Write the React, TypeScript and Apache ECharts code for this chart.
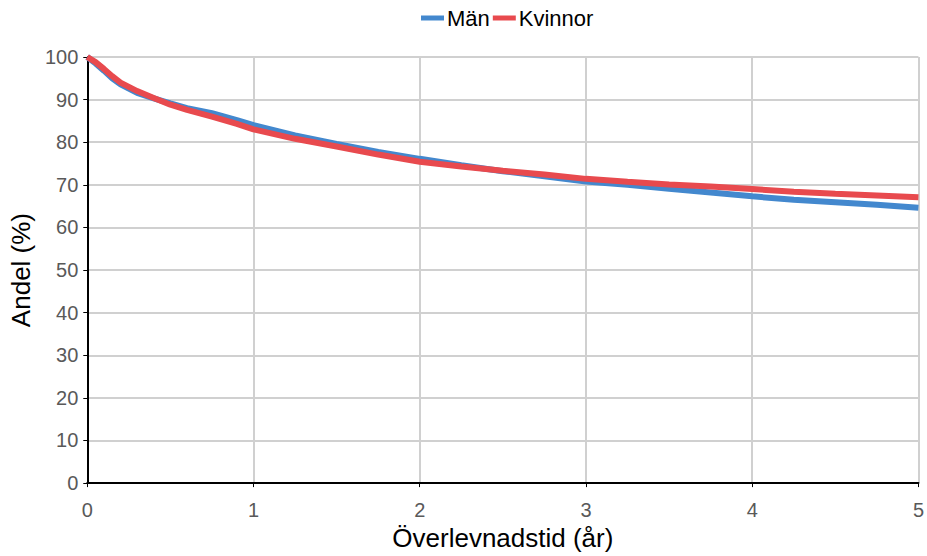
import React, { useEffect, useRef } from "react";
import * as echarts from "echarts";

const years = [0, 0.05, 0.1, 0.15, 0.2, 0.3, 0.4, 0.5, 0.6, 0.75, 0.9, 1.0, 1.25, 1.5, 1.75, 2.0, 2.25, 2.5, 2.75, 3.0, 3.25, 3.5, 3.75, 4.0, 4.25, 4.5, 4.75, 5.0];
const man = [100, 98.5, 96.8, 95.0, 93.6, 91.6, 90.3, 89.1, 88.0, 86.8, 85.2, 84.0, 81.6, 79.6, 77.7, 76.1, 74.6, 73.2, 72.0, 70.8, 70.0, 69.1, 68.2, 67.3, 66.5, 65.9, 65.3, 64.6];
const kvinnor = [100, 98.8, 97.2, 95.5, 94.0, 92.0, 90.4, 88.8, 87.6, 86.0, 84.3, 83.0, 80.8, 79.0, 77.1, 75.4, 74.3, 73.3, 72.4, 71.4, 70.7, 70.1, 69.6, 69.0, 68.4, 67.9, 67.5, 67.1];
const seriesNames = ["Män", "Kvinnor"];
const colors = ["#4388CE", "#E84A4E"];

export default function App() {
  const ref = useRef<HTMLDivElement>(null);
  useEffect(() => {
    if (!ref.current) return;
    const chart = echarts.init(ref.current, undefined, { renderer: "svg" });
    const font = "'Liberation Sans', Arial, sans-serif";
    chart.setOption({
      animation: false,
      textStyle: { fontFamily: font },
      legend: {
        top: 2,
        left: 416,
        itemWidth: 23,
        itemHeight: 5,
        itemGap: 3,
        icon: "rect",
        textStyle: { fontSize: 22, color: "#000", fontFamily: font, padding: [0, 0, 0, -2] },
        data: seriesNames,
      },
      grid: { left: 87, right: 8, top: 57, bottom: 70, containLabel: false },
      xAxis: {
        type: "value",
        min: 0,
        max: 5,
        interval: 1,
        name: "Överlevnadstid (år)",
        nameLocation: "middle",
        nameGap: 36,
        nameTextStyle: { fontSize: 26, color: "#000", fontFamily: font },
        axisLine: { show: true, lineStyle: { color: "#000", width: 2 } },
        axisTick: { show: true, length: 4, lineStyle: { color: "#000" } },
        axisLabel: { fontSize: 20, color: "#595959", margin: 17, fontFamily: font },
        splitLine: { show: true, lineStyle: { color: "#D0D0D0", width: 2 } },
      },
      yAxis: {
        type: "value",
        min: 0,
        max: 100,
        interval: 10,
        name: "Andel (%)",
        nameLocation: "middle",
        nameGap: 52,
        nameTextStyle: { fontSize: 26, color: "#000", fontFamily: font },
        axisLine: { show: true, lineStyle: { color: "#000", width: 2 } },
        axisTick: { show: true, length: 4, lineStyle: { color: "#000" } },
        axisLabel: { fontSize: 20, color: "#595959", margin: 9, fontFamily: font },
        splitLine: { show: true, lineStyle: { color: "#D0D0D0", width: 2 } },
      },
      series: [
        {
          name: seriesNames[0],
          type: "line",
          data: years.map((x, i) => [x, man[i]]),
          showSymbol: false,
          symbol: "none",
          color: colors[0],
          lineStyle: { width: 6, color: colors[0] },
        },
        {
          name: seriesNames[1],
          type: "line",
          data: years.map((x, i) => [x, kvinnor[i]]),
          showSymbol: false,
          symbol: "none",
          color: colors[1],
          lineStyle: { width: 6, color: colors[1] },
        },
      ],
    });
    return () => chart.dispose();
  }, []);
  return <div ref={ref} style={{ width: 927, height: 556, position: "absolute", left: 0, top: 0 }} />;
}
